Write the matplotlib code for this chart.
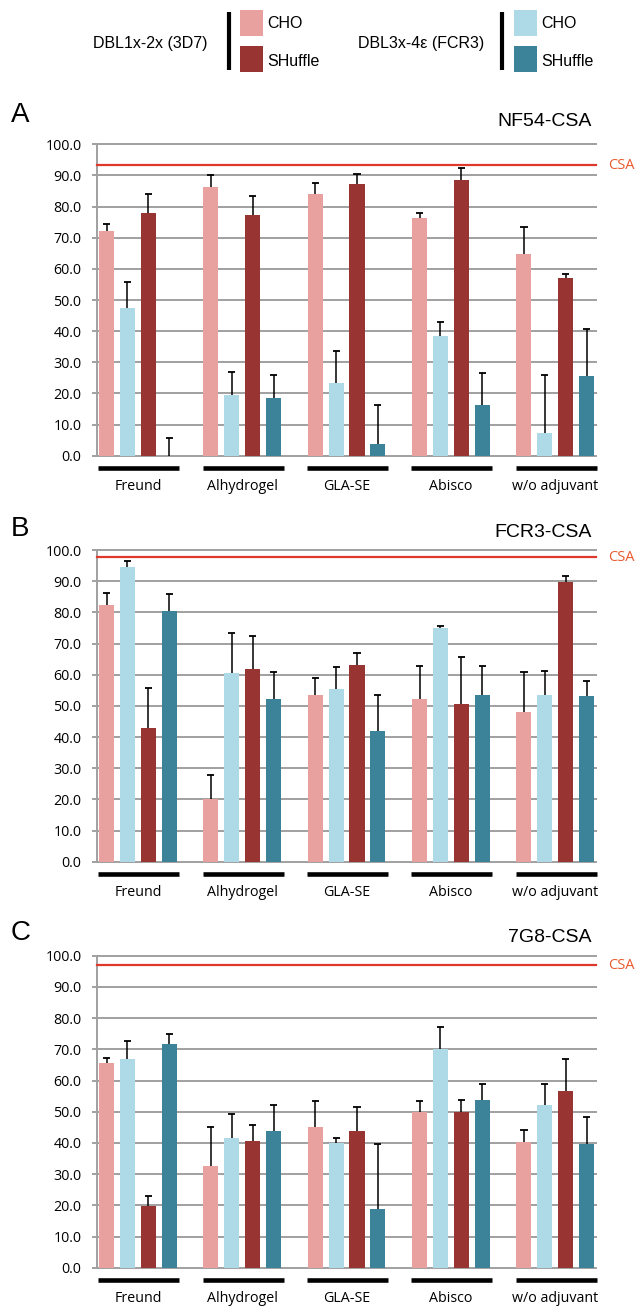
import matplotlib
matplotlib.use("Agg")
import matplotlib.pyplot as plt
import matplotlib.transforms as mtransforms
from matplotlib.patches import Rectangle
import numpy as np

adjuvants = ["Freund", "Alhydrogel", "GLA-SE", "Abisco", "w/o adjuvant"]
series_names = ["DBL1x-2x CHO", "DBL3x-4e CHO", "DBL1x-2x SHuffle", "DBL3x-4e SHuffle"]
yticks = [0, 10, 20, 30, 40, 50, 60, 70, 80, 90, 100]

# Panel A: NF54-CSA
a_vals = [[72.3, 86.3, 84.2, 76.2, 64.8],
          [47.4, 19.5, 23.3, 38.4, 7.4],
          [77.8, 77.2, 87.4, 88.4, 57.0],
          [0.0, 18.5, 3.8, 16.3, 25.6]]
a_tops = [[74.3, 90.0, 87.5, 78.0, 73.5],
          [55.8, 26.8, 33.6, 42.8, 25.9],
          [83.9, 83.5, 90.6, 92.3, 58.3],
          [5.6, 26.0, 16.4, 26.7, 40.6]]
a_csa = 93.2

# Panel B: FCR3-CSA
b_vals = [[82.2, 20.0, 53.4, 52.2, 48.0],
          [94.5, 60.5, 55.4, 75.0, 53.4],
          [42.9, 61.8, 63.0, 50.6, 89.8],
          [80.4, 52.2, 41.9, 53.4, 53.1]]
b_tops = [[86.1, 27.7, 58.8, 62.8, 60.8],
          [96.4, 73.5, 62.5, 75.6, 61.2],
          [55.7, 72.4, 66.9, 65.7, 91.7],
          [85.8, 60.9, 53.6, 62.8, 58.0]]
b_csa = 97.7

# Panel C: 7G8-CSA
c_vals = [[65.6, 32.6, 45.1, 49.8, 40.3],
          [66.9, 41.5, 40.0, 70.2, 52.1],
          [19.8, 40.5, 43.8, 49.9, 56.5],
          [71.7, 43.8, 18.8, 53.7, 39.7]]
c_tops = [[67.2, 45.2, 53.3, 53.5, 44.1],
          [72.7, 49.4, 41.7, 77.3, 58.9],
          [22.9, 45.8, 51.5, 53.8, 66.8],
          [74.8, 52.1, 39.6, 58.9, 48.2]]
c_csa = 97.0

panels = [("A", "NF54-CSA", a_vals, a_tops, a_csa),
          ("B", "FCR3-CSA", b_vals, b_tops, b_csa),
          ("C", "7G8-CSA", c_vals, c_tops, c_csa)]

colors = ["#E8A19F", "#ADDAE6", "#983532", "#3C8399"]
grid_c = "#a0a0a0"
csa_c = "#E0392B"

W, H = 635, 1307
fig = plt.figure(figsize=(W / 100, H / 100), dpi=100)
tick_font = "Open Sans"
label_font = "Liberation Sans"

def fx(px):
    return px / W

def fy(py):
    return 1 - py / H

ax_tops = [144.3, 550.0, 955.7]
ax_bots = [455.7, 861.7, 1267.7]
title_y = [122, 532, 937]
letter_y = [115.5, 528.5, 933.5]
left_px, right_px = 96.5, 596.4

for k, (letter, title, vals, tops, csa) in enumerate(panels):
    ax = fig.add_axes([fx(left_px), fy(ax_bots[k]), fx(right_px - left_px),
                       (ax_bots[k] - ax_tops[k]) / H])
    ax.set_xlim(-0.48, 23.47)
    ax.set_ylim(0, 100)
    for y in yticks:
        ax.axhline(y, color=grid_c, lw=1.4, zorder=0, clip_on=False)
    for j in range(4):
        x = np.arange(len(adjuvants)) * 5 + j
        v = np.array(vals[j])
        t = np.array(tops[j])
        ax.bar(x, v, width=0.72, color=colors[j], zorder=2)
        ax.vlines(x, v, t, color="black", lw=1.1, zorder=3)
        ax.hlines(t, x - 0.17, x + 0.17, color="black", lw=1.3, zorder=3)
    ax.axhline(csa, color=csa_c, lw=1.6, zorder=4, clip_on=False)
    ax.text(1.023, csa, "CSA",
            transform=mtransforms.blended_transform_factory(ax.transAxes, ax.transData),
            color="#EA5A30", fontsize=10.5, family=tick_font, va="center", ha="left")
    for s in ["top", "right", "bottom"]:
        ax.spines[s].set_visible(False)
    ax.spines["left"].set_color(grid_c)
    ax.spines["left"].set_linewidth(1.4)
    ax.set_xticks([])
    ax.set_yticks(yticks)
    ax.set_yticklabels([f"{y:.1f}" for y in yticks], family=tick_font, fontsize=10.3)
    ax.tick_params(axis="y", length=3.6, width=1.4, color=grid_c, pad=7.3)
    trans = mtransforms.blended_transform_factory(ax.transData, ax.transAxes)
    for i, name in enumerate(adjuvants):
        x0 = i * 5 - 0.4
        x1 = i * 5 + 3.48
        ax.plot([x0, x1], [-0.040, -0.040], color="black", lw=3.3,
                solid_capstyle="butt", transform=trans, clip_on=False)
        ax.text(i * 5 + 1.5, -0.098, name, transform=trans, ha="center",
                va="center", family=tick_font, fontsize=10.3)
    fig.text(fx(591.5), fy(title_y[k]), title, ha="right", va="center",
             family=label_font, fontsize=14)
    fig.text(fx(11), fy(letter_y[k]), letter, ha="left", va="center",
             family=label_font, fontsize=20)

# Legend
def legend_group(text_left_px, text, bar_x, sq_x, cols):
    fig.text(fx(text_left_px), fy(43.5), text, ha="left", va="center",
             family=label_font, fontsize=11.5)
    fig.add_artist(plt.Line2D([fx(bar_x), fx(bar_x)], [fy(11.7), fy(70.3)],
                              color="black", lw=3, solid_capstyle="butt",
                              transform=fig.transFigure))
    fig.add_artist(Rectangle((fx(sq_x), fy(35.7)), fx(22.7), 25.7 / H,
                             facecolor=cols[0], edgecolor="none",
                             transform=fig.transFigure))
    fig.add_artist(Rectangle((fx(sq_x), fy(71.7)), fx(22.7), 26 / H,
                             facecolor=cols[1], edgecolor="none",
                             transform=fig.transFigure))
    fig.text(fx(sq_x + 27), fy(23), "CHO", ha="left", va="center",
             family=label_font, fontsize=11.5)
    fig.text(fx(sq_x + 27), fy(61.5), "SHuffle", ha="left", va="center",
             family=label_font, fontsize=11.5)

legend_group(93.3, "DBL1x-2x (3D7)", 229, 240, [colors[0], colors[2]])
legend_group(358.3, "DBL3x-4ε (FCR3)", 501.7, 514, [colors[1], colors[3]])

fig.savefig("out.png", dpi=100)
